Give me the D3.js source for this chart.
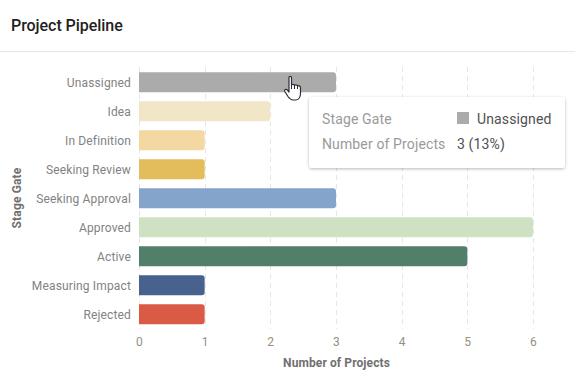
<!DOCTYPE html>
<html><head><meta charset="utf-8">
<script src="https://cdn.jsdelivr.net/npm/d3@7/dist/d3.min.js"></script>
<style>
html,body{margin:0;padding:0;background:#fff;overflow:hidden}
svg{display:block;font-family:Roboto,sans-serif}
</style></head><body>
<script>
const categories=["Unassigned","Idea","In Definition","Seeking Review","Seeking Approval","Approved","Active","Measuring Impact","Rejected"];
const values=[3,2,1,1,3,6,5,1,1];
const colors=["#ababab","#f1e6c8","#f3d9a1","#e3bc5c","#85a4cb","#cee1c3","#527f6a","#48628f","#da5b45"];
const xTicks=[0,1,2,3,4,5,6];
const tooltipRows=[["Stage Gate","Unassigned"],["Number of Projects","3 (13%)"]];

const W=575,H=374;
const svg=d3.select("body").append("svg").attr("width",W).attr("height",H);
const defs=svg.append("defs");
const f=defs.append("filter").attr("id","sh").attr("x","-10%").attr("y","-10%").attr("width","120%").attr("height","130%");
f.append("feDropShadow").attr("dx",0).attr("dy",1).attr("stdDeviation",1.6).attr("flood-color","#000").attr("flood-opacity",0.28);

svg.append("text").attr("x",11).attr("y",31).attr("font-size",16).attr("font-weight",500).attr("fill","#212121").attr("letter-spacing",-0.05).text("Project Pipeline");
svg.append("line").attr("x1",0).attr("x2",W).attr("y1",51.5).attr("y2",51.5).attr("stroke","#e6e6e6");

const x=d3.scaleLinear().domain([0,6]).range([139,533]);
const y=d3.scaleBand().domain(categories).range([67.8,328.8]).paddingInner(9/29).paddingOuter(4.5/29);

const grid=svg.append("g");
grid.selectAll("line").data(xTicks).join("line")
 .attr("x1",d=>Math.round(x(d))+.5).attr("x2",d=>Math.round(x(d))+.5)
 .attr("y1",67).attr("y2",329)
 .attr("stroke","#e6e6e6").attr("stroke-dasharray","5 4");

svg.append("g").selectAll("path").data(categories).join("path")
 .attr("fill",(d,i)=>colors[i])
 .attr("d",(d,i)=>{
   const x0=x(0),x1=x(values[i]),y0=y(d),h=y.bandwidth(),r=3;
   return `M${x0},${y0}H${x1-r}Q${x1},${y0} ${x1},${y0+r}V${y0+h-r}Q${x1},${y0+h} ${x1-r},${y0+h}H${x0}Z`;
 });

const yAxis=svg.append("g").attr("transform","translate(139,0.5)").call(d3.axisLeft(y).tickSize(0).tickPadding(8));
yAxis.select(".domain").remove();
yAxis.selectAll("text").attr("font-size",12).attr("font-family","Roboto,sans-serif").attr("fill","#828282").attr("letter-spacing",0.15);

const xAxis=svg.append("g").attr("transform","translate(0,330)").call(d3.axisBottom(x).tickValues(xTicks).tickFormat(d3.format("d")).tickSize(0).tickPadding(7));
xAxis.select(".domain").remove();
xAxis.selectAll("text").attr("font-size",12).attr("font-family","Roboto,sans-serif").attr("fill","#94907f").attr("letter-spacing",0.2);

svg.append("text").attr("x",336.5).attr("y",367).attr("text-anchor","middle").attr("font-size",12).attr("font-weight",700).attr("fill","#707070").attr("letter-spacing",0.1).text("Number of Projects");
svg.append("text").attr("transform","translate(21,198) rotate(-90)").attr("text-anchor","middle").attr("font-size",12).attr("font-weight",700).attr("fill","#707070").attr("letter-spacing",0.15).text("Stage Gate");

// tooltip
const tt=svg.append("g").attr("transform","translate(309,97)");
tt.append("rect").attr("width",256).attr("height",71).attr("rx",3).attr("fill","#fff").attr("filter","url(#sh)");
tt.append("text").attr("x",13).attr("y",27).attr("font-size",14).attr("fill","#9a9a9a").attr("letter-spacing",.13).text(tooltipRows[0][0]);
tt.append("text").attr("x",13).attr("y",52).attr("font-size",14).attr("fill","#9a9a9a").attr("letter-spacing",.13).text(tooltipRows[1][0]);
tt.append("rect").attr("x",148).attr("y",15).attr("width",12).attr("height",12).attr("fill",colors[0]);
tt.append("text").attr("x",168).attr("y",27).attr("font-size",14).attr("fill","#505050").attr("letter-spacing",.13).text(tooltipRows[0][1]);
tt.append("text").attr("x",148).attr("y",52).attr("font-size",14).attr("fill","#505050").attr("letter-spacing",.13).text(tooltipRows[1][1]);

// hand cursor
const hand=svg.append("g").attr("transform","translate(284,75)");
hand.append("path")
 .attr("d","M5,2.5C5,1 7.5,1 7.5,2.5V10C8,9 10,9 10.5,10.5C11,9.5 13,9.5 13.5,11C14,10.5 16.5,10.5 16.5,12.5V18C16.5,21.5 15,25 12,25H9C7,25 5.5,23.5 4,21.5L0.8,16.5C0,15 2,13.5 3.2,14.8L5,17Z")
 .attr("fill","#fff").attr("stroke","#2a2a3a").attr("stroke-width",1.2).attr("stroke-linejoin","round");
hand.append("path").attr("d","M7.5,10V14M10.5,10.5V14M13.5,11V14").attr("fill","none").attr("stroke","#2a2a3a").attr("stroke-width",1);
</script>
</body></html>
